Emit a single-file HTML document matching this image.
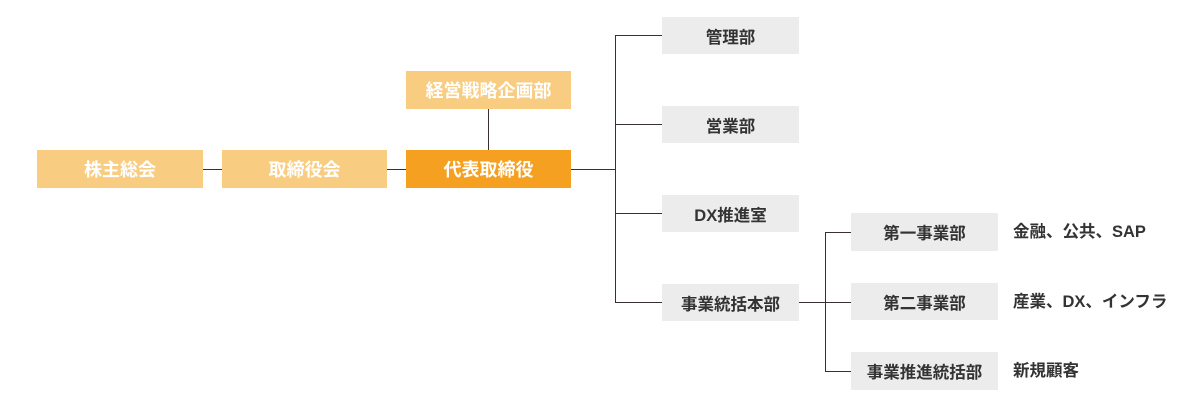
<!DOCTYPE html>
<html><head><meta charset="utf-8"><style>
body{margin:0;width:1203px;height:407px;background:#fff;position:relative;overflow:hidden;font-family:"Liberation Sans","Noto Sans CJK JP",sans-serif;}
.b{position:absolute;display:flex;align-items:center;justify-content:center;font-size:18px;font-weight:bold;}
.o{background:#f8cd82;color:#fff;}
.d{background:#f5a020;color:#fff;}
.g{background:#ececec;color:#333;font-size:16.5px;}
.l{position:absolute;background:#3a3030;}
.t{position:absolute;font-size:16.5px;color:#333;font-weight:bold;line-height:20px;}
</style></head><body>
<div class="l" style="left:203px;top:169px;width:19px;height:1px"></div>
<div class="l" style="left:387px;top:169px;width:19px;height:1px"></div>
<div class="l" style="left:488px;top:109px;width:1px;height:41px"></div>
<div class="l" style="left:571px;top:169px;width:45px;height:1px"></div>
<div class="l" style="left:615px;top:35px;width:1px;height:268px"></div>
<div class="l" style="left:615px;top:35px;width:47px;height:1px"></div>
<div class="l" style="left:615px;top:124px;width:47px;height:1px"></div>
<div class="l" style="left:615px;top:213px;width:47px;height:1px"></div>
<div class="l" style="left:615px;top:302px;width:47px;height:1px"></div>
<div class="l" style="left:799px;top:302px;width:52px;height:1px"></div>
<div class="l" style="left:825px;top:232px;width:1px;height:140px"></div>
<div class="l" style="left:825px;top:232px;width:26px;height:1px"></div>
<div class="l" style="left:825px;top:371px;width:26px;height:1px"></div>

<div class="b o" style="left:37px;top:150px;width:166px;height:38px">株主総会</div>
<div class="b o" style="left:222px;top:150px;width:165px;height:38px">取締役会</div>
<div class="b d" style="left:406px;top:150px;width:165px;height:38px">代表取締役</div>
<div class="b o" style="left:406px;top:71px;width:165px;height:38px">経営戦略企画部</div>

<div class="b g" style="left:662px;top:17px;width:137px;height:37px">管理部</div>
<div class="b g" style="left:662px;top:106px;width:137px;height:37px">営業部</div>
<div class="b g" style="left:662px;top:195px;width:137px;height:37px">DX推進室</div>
<div class="b g" style="left:662px;top:284px;width:137px;height:37px">事業統括本部</div>

<div class="b g" style="left:851px;top:213px;width:147px;height:38px">第一事業部</div>
<div class="b g" style="left:851px;top:283px;width:147px;height:37px">第二事業部</div>
<div class="b g" style="left:851px;top:352px;width:147px;height:38px">事業推進統括部</div>

<div class="t" style="left:1013px;top:222px">金融、公共、SAP</div>
<div class="t" style="left:1013px;top:292px">産業、DX、インフラ</div>
<div class="t" style="left:1013px;top:361px">新規顧客</div>
</body></html>
